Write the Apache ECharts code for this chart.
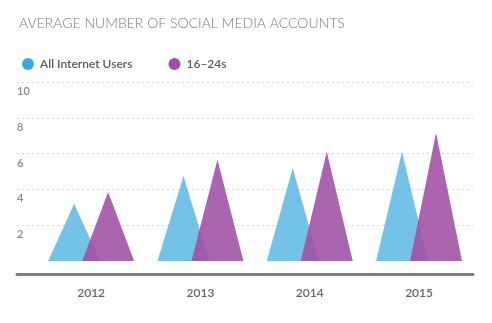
<!DOCTYPE html>
<html><head><meta charset="utf-8">
<script src="https://cdn.jsdelivr.net/npm/echarts@6/dist/echarts.min.js"></script>
<style>html,body{margin:0;padding:0;background:#fff}#c{width:492px;height:323px}</style>
</head><body><div id="c"></div>
<script>
const title = 'AVERAGE NUMBER OF SOCIAL MEDIA ACCOUNTS';
const categories = ['2012', '2013', '2014', '2015'];
const seriesNames = ['All Internet Users', '16–24s'];
const allUsers = [3.2, 4.75, 5.2, 6.1];
const youth = [3.85, 5.65, 6.1, 7.15];
const yTicks = [2, 4, 6, 8, 10];

const chart = echarts.init(document.getElementById('c'), null, {renderer: 'canvas'});
const font = 'Lato, "Open Sans", sans-serif';
const blue = '#3aa8dd', purple = '#9f4ea3';
chart.setOption({
  animation: false,
  title: {text: title, left: 14, top: 11,
    textStyle: {fontFamily: font, fontWeight: 300, fontSize: 14, color: '#7a7a7a'}},
  legend: {left: 17, top: 53, icon: 'circle', itemWidth: 12, itemHeight: 12, itemGap: 36,
    textStyle: {fontFamily: font, fontWeight: 600, fontSize: 12, color: '#5a5a5a', padding: [0,0,0,1]},
    data: [{name: seriesNames[0], itemStyle: {color: blue, opacity: 1}},
           {name: seriesNames[1], itemStyle: {color: purple, opacity: 1}}]},
  grid: [
    {left: 17, right: 19, top: 82, bottom: 62},
    {left: 36.5, right: 18.3, top: 82, bottom: 62}
  ],
  xAxis: [
    {gridIndex: 0, type: 'category', data: categories, offset: 13,
     axisLine: {onZero: false, lineStyle: {color: '#808080', width: 3}}, axisTick: {show: false}, axisLabel: {show: false}},
    {gridIndex: 1, type: 'category', data: categories, offset: 13,
     axisLine: {show: false, onZero: false}, axisTick: {show: false},
     axisLabel: {margin: 13, fontFamily: font, fontWeight: 600, fontSize: 12, color: '#666'}}
  ],
  yAxis: [
    {gridIndex: 0, type: 'value', min: 0, max: 10, interval: 2,
     axisLine: {show: false}, axisTick: {show: false},
     axisLabel: {inside: true, margin: 0, showMinLabel: false, verticalAlign: 'top', padding: [4,0,0,0],
       fontFamily: font, fontWeight: 600, fontSize: 11, color: '#888',
       formatter: v => yTicks.includes(v) ? String(v) : ''},
     splitLine: {show: true, showMinLine: false, lineStyle: {type: [2, 3], color: '#d6d6d6', width: 1}}},
    {gridIndex: 1, type: 'value', min: 0, max: 10, interval: 2, show: false, splitLine: {show: false}}
  ],
  series: [
    {name: seriesNames[0], type: 'pictorialBar', xAxisIndex: 1, yAxisIndex: 1, data: allUsers,
     symbol: 'triangle', symbolSize: ['100%', '100%'], barWidth: 52, barGap: '-34.6%',
     itemStyle: {color: blue, opacity: 0.7}},
    {name: seriesNames[1], type: 'pictorialBar', xAxisIndex: 1, yAxisIndex: 1, data: youth,
     symbol: 'triangle', symbolSize: ['100%', '100%'], barWidth: 52, barGap: '-34.6%',
     itemStyle: {color: purple, opacity: 0.88}}
  ]
});
</script></body></html>
